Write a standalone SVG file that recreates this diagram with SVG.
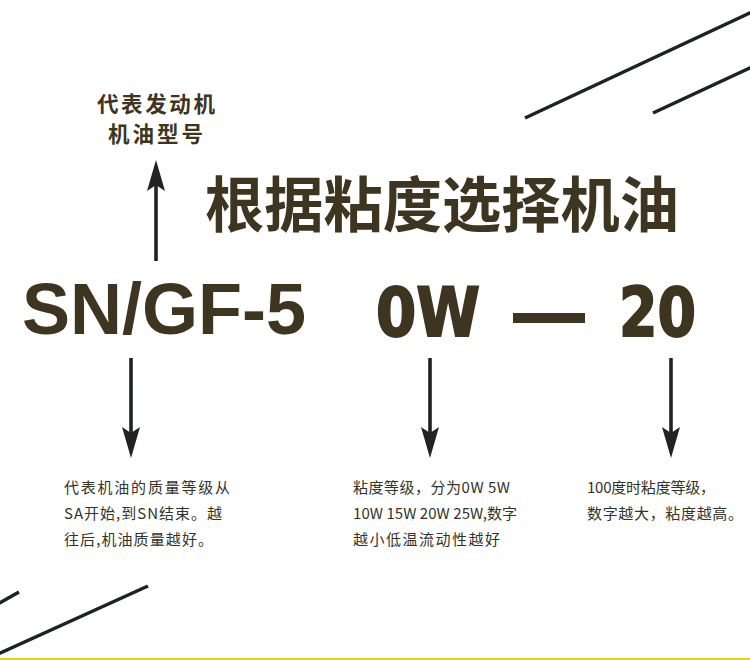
<svg xmlns="http://www.w3.org/2000/svg" width="750" height="660" viewBox="0 0 750 660">
<style>
.deco{stroke:#1f2225;stroke-width:3.5;stroke-linecap:butt;fill:none}
.shaft{stroke:#1f2326;stroke-width:3.6;fill:none}
.cjk{font-family:"Noto Sans CJK SC","Noto Sans",sans-serif}
.big{font-family:"Liberation Sans",Arial,sans-serif;font-weight:bold;font-size:72px;fill:#3d3520}
.block{font-family:"DejaVu Sans",sans-serif;font-weight:bold;font-size:68px;fill:#3d3520;stroke:#3d3520;stroke-width:2}
.title{font-weight:bold;font-size:60px;fill:#3d3520}
.label{font-weight:bold;font-size:21.5px;fill:#3d3520}
.note{font-size:15px;fill:#33332a}
</style>
<defs>
<marker id="ah" markerUnits="userSpaceOnUse" viewBox="0 0 31 18" refX="6" refY="9" markerWidth="31" markerHeight="18" orient="auto">
<path d="M0,0 L31,9 L0,18 L6,9 Z" fill="#1f2326"/>
</marker>
</defs>
<rect width="750" height="660" fill="#ffffff"/>
<g id="decor">
<line class="deco" x1="525" y1="118" x2="752" y2="12"/>
<line class="deco" x1="653" y1="113" x2="752" y2="67"/>
<line class="deco" x1="-2" y1="604" x2="19" y2="592"/>
<line class="deco" x1="-2" y1="654" x2="148" y2="586"/>
<line x1="0" y1="659" x2="750" y2="659" stroke="#f2c81c" stroke-width="2"/>
</g>
<g id="title">
<text class="cjk title" x="205" y="227" textLength="474" lengthAdjust="spacingAndGlyphs">根据粘度选择机油</text>
</g>
<g id="node-top-label">
<text class="cjk label" x="97" y="112" textLength="118" lengthAdjust="spacing">代表发动机</text>
<text class="cjk label" x="108" y="142" textLength="95" lengthAdjust="spacing">机油型号</text>
</g>
<g id="node-sn">
<text class="big" x="22" y="334" textLength="284" lengthAdjust="spacingAndGlyphs">SN/GF-5</text>
</g>
<g id="node-0w">
<text class="block" x="376" y="336" textLength="104" lengthAdjust="spacingAndGlyphs">0W</text>
</g>
<g id="node-dash">
<rect x="513" y="313" width="72" height="10" fill="#3d3520"/>
</g>
<g id="node-20">
<text class="block" x="619" y="336" textLength="77" lengthAdjust="spacingAndGlyphs">20</text>
</g>
<g id="connectors">
<line class="shaft" x1="156" y1="261" x2="156" y2="185" marker-end="url(#ah)"/>
<line class="shaft" x1="131" y1="358" x2="131" y2="433" marker-end="url(#ah)"/>
<line class="shaft" x1="430" y1="358" x2="430" y2="433" marker-end="url(#ah)"/>
<line class="shaft" x1="671" y1="358" x2="671" y2="433" marker-end="url(#ah)"/>
</g>
<g id="node-note-left">
<text class="cjk note" x="64" y="493" textLength="166" lengthAdjust="spacing">代表机油的质量等级从</text>
<text class="cjk note" x="64" y="519" textLength="158" lengthAdjust="spacing">SA开始,到SN结束。越</text>
<text class="cjk note" x="64" y="545" textLength="149" lengthAdjust="spacing">往后,机油质量越好。</text>
</g>
<g id="node-note-mid">
<text class="cjk note" x="353" y="493" textLength="157" lengthAdjust="spacing">粘度等级，分为0W 5W</text>
<text class="cjk note" x="353" y="519" textLength="164" lengthAdjust="spacing">10W 15W 20W 25W,数字</text>
<text class="cjk note" x="353" y="545" textLength="147" lengthAdjust="spacing">越小低温流动性越好</text>
</g>
<g id="node-note-right">
<text class="cjk note" x="587" y="493" textLength="128" lengthAdjust="spacing">100度时粘度等级，</text>
<text class="cjk note" x="587" y="519" textLength="156" lengthAdjust="spacing">数字越大，粘度越高。</text>
</g>
</svg>
